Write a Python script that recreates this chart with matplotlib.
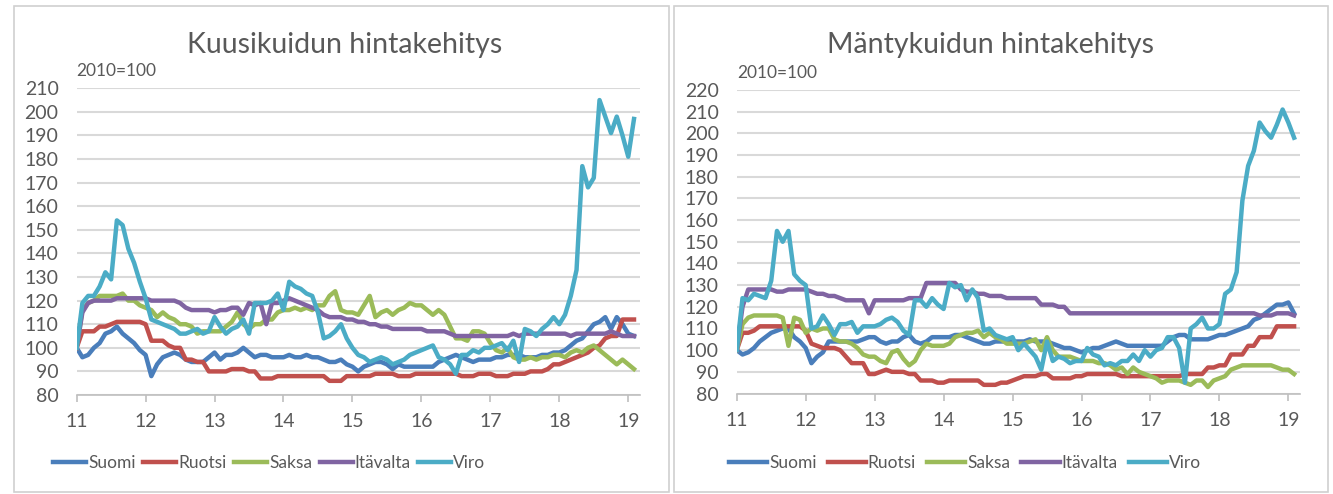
import numpy as np
import matplotlib
matplotlib.use("Agg")
import matplotlib.pyplot as plt
from matplotlib.patches import Rectangle

plt.rcParams['font.family'] = ['Lato', 'DejaVu Sans']

# monthly index values, Jan 2011 .. Feb 2019 (2010=100)
series_names = ['Suomi', 'Ruotsi', 'Saksa', 'Itävalta', 'Viro']
series_colors = ['#4a7ebb', '#c0504d', '#9bbb59', '#8064a2', '#4bacc6']

# --- Kuusikuitu (spruce pulpwood)
kuusi_suomi = [100, 96, 97, 100, 102, 106, 107, 109, 106, 104, 102, 99,
               97, 88, 93, 96, 97, 98, 97, 95, 94, 94, 94, 96,
               98, 95, 97, 97, 98, 100, 98, 96, 97, 97, 96, 96,
               96, 97, 96, 96, 97, 96, 96, 95, 94, 94, 95, 93,
               92, 90, 92, 93, 94, 94, 93, 91, 93, 92, 92, 92,
               92, 92, 92, 94, 95, 96, 97, 96, 95, 94, 95, 95,
               95, 96, 96, 97, 97, 97, 96, 96, 96, 97, 97, 98,
               98, 99, 101, 103, 104, 107, 110, 111, 113, 108, 113, 110,
               106, 105]
kuusi_ruotsi = [100, 107, 107, 107, 109, 109, 110, 111, 111, 111, 111, 111,
                110, 103, 103, 103, 101, 100, 100, 95, 95, 94, 94, 90,
                90, 90, 90, 91, 91, 91, 90, 90, 87, 87, 87, 88,
                88, 88, 88, 88, 88, 88, 88, 88, 86, 86, 86, 88,
                88, 88, 88, 88, 89, 89, 89, 89, 88, 88, 88, 89,
                89, 89, 89, 89, 89, 89, 89, 88, 88, 88, 89, 89,
                89, 88, 88, 88, 89, 89, 89, 90, 90, 90, 91, 93,
                93, 94, 95, 96, 97, 98, 100, 101, 104, 105, 105, 112,
                112, 112]
kuusi_saksa = [100, 116, 119, 120, 122, 122, 122, 122, 123, 120, 120, 118,
               117, 116, 113, 115, 113, 112, 110, 110, 109, 106, 107, 107,
               107, 107, 109, 111, 115, 110, 108, 110, 110, 112, 112, 115,
               116, 116, 117, 116, 117, 116, 118, 118, 122, 124, 116, 115,
               115, 114, 118, 122, 113, 115, 116, 114, 116, 117, 119, 118,
               118, 116, 114, 116, 114, 109, 104, 104, 103, 107, 107, 106,
               102, 99, 98, 100, 96, 95, 95, 96, 95, 96, 96, 97,
               97, 96, 98, 99, 98, 100, 101, 99, 97, 95, 93, 95,
               93, 91]
kuusi_itavalta = [100, 115, 119, 120, 120, 120, 120, 121, 121, 121, 121, 121,
                  121, 120, 120, 120, 120, 120, 119, 117, 116, 116, 116, 116,
                  115, 116, 116, 117, 117, 114, 119, 118, 119, 110, 119, 119,
                  120, 121, 120, 119, 118, 117, 116, 114, 113, 113, 113, 112,
                  112, 111, 111, 110, 110, 109, 109, 108, 108, 108, 108, 108,
                  108, 107, 107, 107, 107, 106, 105, 105, 105, 105, 105, 105,
                  105, 105, 105, 105, 106, 105, 106, 106, 106, 106, 106, 106,
                  106, 106, 105, 106, 106, 106, 106, 106, 106, 107, 106, 105,
                  105, 105]
kuusi_viro = [100, 119, 122, 122, 126, 132, 129, 154, 152, 142, 136, 128,
              121, 112, 111, 110, 109, 108, 106, 106, 107, 108, 106, 107,
              113, 109, 106, 108, 109, 112, 106, 119, 119, 119, 120, 123,
              116, 128, 126, 125, 123, 122, 115, 104, 105, 107, 110, 104,
              100, 97, 96, 94, 95, 96, 95, 93, 94, 95, 97, 98,
              99, 100, 101, 96, 95, 93, 89, 97, 97, 99, 98, 100,
              100, 101, 102, 99, 103, 94, 108, 107, 105, 108, 110, 113,
              110, 114, 122, 133, 177, 168, 172, 205, 198, 191, 198, 190,
              181, 197]

# --- Mäntykuitu (pine pulpwood)
manty_suomi = [100, 98, 99, 101, 104, 106, 108, 109, 110, 110, 106, 104,
               101, 94, 97, 99, 104, 104, 104, 104, 104, 104, 105, 106,
               106, 104, 103, 104, 104, 106, 107, 104, 103, 104, 106, 106,
               106, 106, 107, 107, 106, 105, 104, 103, 103, 104, 104, 104,
               104, 104, 104, 105, 104, 104, 104, 103, 102, 101, 101, 100,
               99, 100, 101, 101, 102, 103, 104, 103, 102, 102, 102, 102,
               102, 102, 102, 104, 106, 107, 107, 105, 105, 105, 105, 106,
               107, 107, 108, 109, 110, 111, 114, 115, 117, 119, 121, 121,
               122, 117]
manty_ruotsi = [100, 108, 108, 109, 111, 111, 111, 111, 111, 111, 111, 111,
                109, 103, 102, 101, 101, 101, 100, 97, 94, 94, 94, 89,
                89, 90, 91, 90, 90, 90, 89, 89, 86, 86, 86, 85,
                85, 86, 86, 86, 86, 86, 86, 84, 84, 84, 85, 85,
                86, 87, 88, 88, 88, 89, 89, 87, 87, 87, 87, 88,
                88, 89, 89, 89, 89, 89, 89, 88, 88, 88, 88, 88,
                88, 88, 88, 88, 88, 88, 89, 89, 89, 89, 92, 92,
                93, 93, 98, 98, 98, 102, 102, 106, 106, 106, 111, 111,
                111, 111]
manty_saksa = [100, 112, 115, 116, 116, 116, 116, 116, 115, 102, 115, 114,
               108, 110, 109, 110, 110, 105, 104, 104, 103, 101, 98, 97,
               97, 95, 94, 99, 100, 96, 93, 95, 100, 103, 102, 102,
               102, 103, 106, 107, 108, 108, 109, 106, 108, 106, 105, 103,
               103, 103, 103, 104, 105, 100, 106, 100, 97, 97, 97, 96,
               95, 95, 95, 94, 94, 93, 91, 92, 89, 92, 90, 89,
               88, 87, 85, 86, 86, 86, 85, 84, 86, 86, 83, 86,
               87, 88, 91, 92, 93, 93, 93, 93, 93, 93, 92, 91,
               91, 89]
manty_itavalta = [100, 120, 128, 128, 128, 128, 128, 127, 127, 128, 128, 128,
                  128, 127, 126, 126, 125, 125, 124, 123, 123, 123, 123, 117,
                  123, 123, 123, 123, 123, 123, 124, 124, 124, 131, 131, 131,
                  131, 131, 131, 128, 127, 127, 126, 126, 125, 125, 125, 124,
                  124, 124, 124, 124, 124, 121, 121, 121, 120, 120, 117, 117,
                  117, 117, 117, 117, 117, 117, 117, 117, 117, 117, 117, 117,
                  117, 117, 117, 117, 117, 117, 117, 117, 117, 117, 117, 117,
                  117, 117, 117, 117, 117, 117, 117, 116, 116, 116, 117, 117,
                  117, 116]
manty_viro = [100, 124, 123, 126, 125, 124, 132, 155, 150, 155, 135, 132,
              130, 110, 111, 116, 112, 107, 112, 112, 113, 108, 111, 111,
              111, 112, 114, 115, 113, 109, 107, 123, 123, 120, 124, 121,
              119, 131, 129, 130, 123, 128, 124, 109, 110, 107, 106, 105,
              106, 100, 103, 100, 97, 91, 104, 95, 97, 96, 94, 95,
              95, 101, 98, 97, 93, 94, 93, 95, 95, 98, 95, 100,
              97, 100, 101, 106, 106, 101, 85, 110, 112, 115, 110, 110,
              112, 126, 128, 136, 169, 185, 192, 205, 201, 198, 204, 211,
              205, 198]

x_ticks = [11, 12, 13, 14, 15, 16, 17, 18, 19]

panels = [
    dict(title='Kuusikuidun hintakehitys', title_x=0.2588,
         data=[kuusi_suomi, kuusi_ruotsi, kuusi_saksa, kuusi_itavalta, kuusi_viro],
         ylim=(80, 210), rect=[0.0575, 0.2004, 0.4226, 0.6209],
         leg_x=0.342, leg_y=-0.222, hl=1.9, cs=0.45,
         box=[0.0105, 0.004, 0.4915, 0.984]),
    dict(title='Mäntykuidun hintakehitys', title_x=0.7427,
         data=[manty_suomi, manty_ruotsi, manty_saksa, manty_itavalta, manty_viro],
         ylim=(80, 220), rect=[0.5527, 0.2034, 0.4226, 0.6144],
         leg_x=0.405, leg_y=-0.229, hl=2.2, cs=0.65,
         box=[0.5055, 0.004, 0.4905, 0.984]),
]

grey_txt = '#595959'
fig = plt.figure(figsize=(13.33, 4.94), dpi=100)

for p in panels:
    fig.patches.append(Rectangle((p['box'][0], p['box'][1]), p['box'][2], p['box'][3],
                                 transform=fig.transFigure, fill=False,
                                 edgecolor='#d0d0d0', lw=1.2))
    ax = fig.add_axes(p['rect'])
    n = len(p['data'][0])
    x = 11 + np.arange(n) / 12.0
    for name, col, vals in zip(series_names, series_colors, p['data']):
        ax.plot(x, vals, color=col, lw=3.2, label=name, solid_joinstyle='round')
    ax.set_xlim(11, 19.17)
    ax.set_ylim(*p['ylim'])
    ax.set_yticks(np.arange(p['ylim'][0], p['ylim'][1] + 1, 10))
    ax.set_xticks(x_ticks)
    ax.grid(axis='y', color='#d9d9d9', lw=1.5)
    ax.set_axisbelow(True)
    for s in ['top', 'right', 'left']:
        ax.spines[s].set_visible(False)
    ax.spines['bottom'].set_color('#bfbfbf')
    ax.spines['bottom'].set_linewidth(1.2)
    ax.tick_params(axis='x', direction='out', length=5, color='#bfbfbf', width=1.2,
                   pad=8, labelsize=14, labelcolor=grey_txt)
    ax.tick_params(axis='y', length=0, pad=13, labelsize=14, labelcolor=grey_txt)
    fig.text(p['title_x'], 0.909, p['title'], fontsize=20.5, color=grey_txt,
             ha='center', va='center')
    ax.text(0.0, 1.055, '2010=100', transform=ax.transAxes, fontsize=12.5,
            color=grey_txt, ha='left', va='center')
    ax.legend(loc='center', bbox_to_anchor=(p['leg_x'], p['leg_y']), ncol=5,
              frameon=False, fontsize=12.5, handlelength=p['hl'], handletextpad=0.1,
              columnspacing=p['cs'], labelcolor=grey_txt)

fig.savefig('out.png', dpi=100)
